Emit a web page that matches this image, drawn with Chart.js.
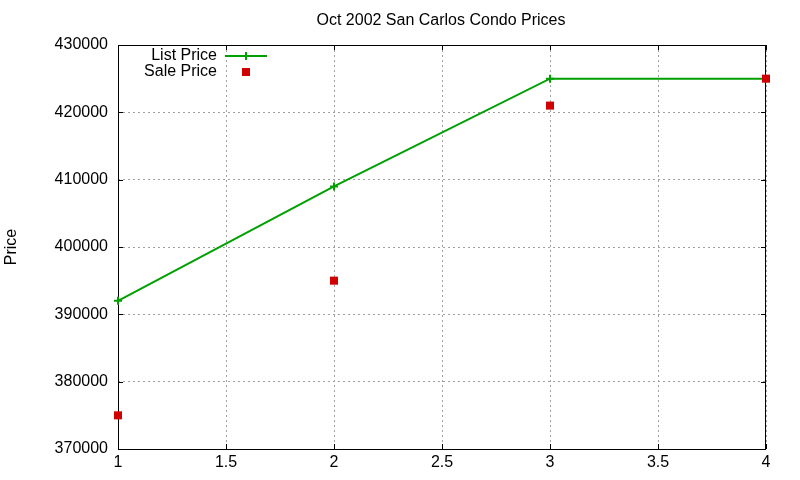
<!DOCTYPE html>
<html>
<head>
<meta charset="utf-8">
<script src="https://cdn.jsdelivr.net/npm/chart.js@4"></script>
<style>
  html, body { margin: 0; padding: 0; background: #fff; }
  #wrap { width: 800px; height: 480px; }
</style>
</head>
<body>
<div id="wrap"><canvas id="priceChart" width="800" height="480"></canvas></div>
<script>
// Data
const months = [1, 2, 3, 4];
const listPrice = [392000, 409000, 425000, 425000];
const salePrice = [375000, 395000, 421000, 425000];
const xTicks = [1, 1.5, 2, 2.5, 3, 3.5, 4];
const yTicks = [370000, 380000, 390000, 400000, 410000, 420000, 430000];
const seriesNames = ['List Price', 'Sale Price'];

const FONT = '"Liberation Sans", Arial, sans-serif';

function toPoints(values) {
    return months.map((m, i) => ({ x: m, y: values[i] }));
}

// gnuplot-like frame, inner ticks, title, y label and legend
const gnuplotDecor = {
    id: 'gnuplotDecor',
    beforeDatasetsDraw(chart) {
        const ctx = chart.ctx;
        const area = chart.chartArea;
        const xs = chart.scales.x, ys = chart.scales.y;
        ctx.save();

        // frame
        ctx.strokeStyle = '#000';
        ctx.lineWidth = 1;
        ctx.strokeRect(Math.round(area.left) + 0.5, Math.round(area.top) + 0.5,
            Math.round(area.right - area.left) - 1, Math.round(area.bottom - area.top));

        // inner tick marks on all four sides
        const tl = 5;
        ctx.beginPath();
        xTicks.forEach(v => {
            const px = Math.round(xs.getPixelForValue(v)) + 0.5;
            ctx.moveTo(px, area.bottom); ctx.lineTo(px, area.bottom - tl);
            ctx.moveTo(px, area.top); ctx.lineTo(px, area.top + tl);
        });
        yTicks.forEach(v => {
            const py = Math.round(ys.getPixelForValue(v)) + 0.5;
            ctx.moveTo(area.left, py); ctx.lineTo(area.left + tl, py);
            ctx.moveTo(area.right, py); ctx.lineTo(area.right - tl, py);
        });
        ctx.stroke();
        ctx.restore();
    },
    afterDraw(chart) {
        const ctx = chart.ctx;
        ctx.save();

        // title
        ctx.fillStyle = '#000';
        ctx.font = '16px ' + FONT;
        ctx.textAlign = 'center';
        ctx.textBaseline = 'middle';
        ctx.fillText('Oct 2002 San Carlos Condo Prices', 441, 21);

        // y axis label
        ctx.save();
        ctx.translate(12, 247);
        ctx.rotate(-Math.PI / 2);
        ctx.fillText('Price', 0, 0);
        ctx.restore();

        // legend
        ctx.textAlign = 'right';
        const ds = chart.data.datasets;
        seriesNames.forEach((name, i) => {
            const y = 56 + i * 16;
            ctx.fillStyle = '#000';
            ctx.fillText(name, 217, y);
            const d = ds.find(s => s.label === name);
            if (d.showLine) {
                ctx.strokeStyle = d.borderColor;
                ctx.lineWidth = 2;
                ctx.beginPath();
                ctx.moveTo(225, y); ctx.lineTo(267, y);
                ctx.moveTo(246, y - 4); ctx.lineTo(246, y + 4);
                ctx.stroke();
            } else {
                ctx.fillStyle = d.pointBackgroundColor;
                ctx.fillRect(242, y - 4, 8, 8);
            }
        });
        ctx.restore();
    }
};

new Chart(document.getElementById('priceChart'), {
    type: 'scatter',
    data: {
        datasets: [{
            label: seriesNames[0],
            data: toPoints(listPrice),
            showLine: true,
            clip: false,
            borderColor: '#00a000',
            backgroundColor: '#00a000',
            borderWidth: 2,
            pointStyle: 'cross',
            pointRadius: 4,
            pointBorderWidth: 2,
            pointBorderColor: '#00a000',
            order: 2
        }, {
            label: seriesNames[1],
            data: toPoints(salePrice),
            showLine: false,
            clip: false,
            pointStyle: 'rect',
            pointRadius: 5.7,
            pointBorderWidth: 0,
            pointBackgroundColor: '#d00000',
            backgroundColor: '#d00000',
            borderColor: '#d00000',
            order: 1
        }]
    },
    options: {
        responsive: false,
        animation: false,
        layout: { padding: { left: 0, right: 34, top: 45, bottom: 0 } },
        plugins: {
            legend: { display: false },
            title: { display: false },
            tooltip: { enabled: false }
        },
        scales: {
            x: {
                type: 'linear',
                min: 1, max: 4,
                afterBuildTicks: s => { s.ticks = xTicks.map(v => ({ value: v })); },
                afterFit: s => { s.height = 31; },
                ticks: { color: '#000', font: { family: FONT, size: 16 }, padding: 4, maxRotation: 0,
                    callback: v => String(v) },
                grid: { color: '#a0a0a0', drawTicks: false, lineWidth: 1 },
                border: { display: false, dash: [2, 3] }
            },
            y: {
                min: 370000, max: 430000,
                afterBuildTicks: s => { s.ticks = yTicks.map(v => ({ value: v })); },
                afterFit: s => { s.width = 118; },
                ticks: { color: '#000', font: { family: FONT, size: 16 }, padding: 10,
                    callback: v => String(v) },
                grid: { color: '#a0a0a0', drawTicks: false, lineWidth: 1 },
                border: { display: false, dash: [2, 3] }
            }
        }
    },
    plugins: [gnuplotDecor]
});
</script>
</body>
</html>
